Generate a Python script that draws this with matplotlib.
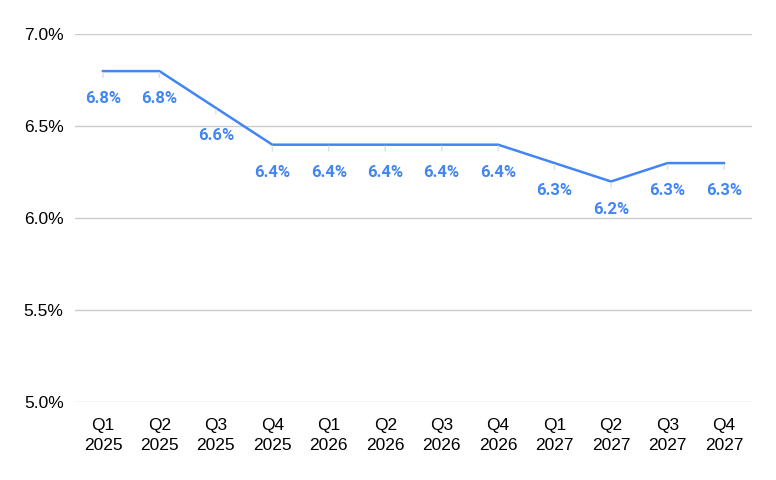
import matplotlib
matplotlib.use('Agg')
import matplotlib.pyplot as plt
from matplotlib.ticker import FuncFormatter

### data
quarters = ['Q1\n2025', 'Q2\n2025', 'Q3\n2025', 'Q4\n2025',
            'Q1\n2026', 'Q2\n2026', 'Q3\n2026', 'Q4\n2026',
            'Q1\n2027', 'Q2\n2027', 'Q3\n2027', 'Q4\n2027']
rate = [6.8, 6.8, 6.6, 6.4, 6.4, 6.4, 6.4, 6.4, 6.3, 6.2, 6.3, 6.3]
yticks = [5.0, 5.5, 6.0, 6.5, 7.0]

blue = '#4285F4'

### figure
fig = plt.figure(figsize=(7.76, 4.8), dpi=100)
ax = fig.add_axes([0.0963, 0.162, 0.873, 0.7665])

x = list(range(len(quarters)))
ax.plot(x, rate, color=blue, lw=1.8, zorder=3)

### point labels with faint leader lines
for xi, v in zip(x, rate):
    ax.annotate('%.1f%%' % v, xy=(xi, v), xytext=(0, -20), textcoords='offset points',
                ha='center', va='center', color=blue, fontsize=12, fontweight='bold',
                family='Roboto',
                arrowprops=dict(arrowstyle='-', color='#e0e0e0', lw=1,
                                shrinkA=8, shrinkB=1))

### axes styling
ax.set_xlim(-0.5, len(quarters) - 0.5)
ax.set_ylim(5.0, 7.0)
ax.set_yticks(yticks)
ax.yaxis.set_major_formatter(FuncFormatter(lambda v, p: '%.1f%%' % v))
ax.set_xticks(x)
ax.set_xticklabels(quarters)
ax.grid(axis='y', color='#cccccc', lw=1)
ax.set_axisbelow(True)
for s in ax.spines.values():
    s.set_visible(False)
ax.tick_params(length=0, labelsize=12.5, labelcolor='#000000')
ax.tick_params(axis='x', pad=11)
ax.tick_params(axis='y', pad=8)
for lbl in ax.get_xticklabels() + ax.get_yticklabels():
    lbl.set_family('Liberation Sans')
    lbl.set_linespacing(1.45)

plt.savefig('out.png', dpi=100)
